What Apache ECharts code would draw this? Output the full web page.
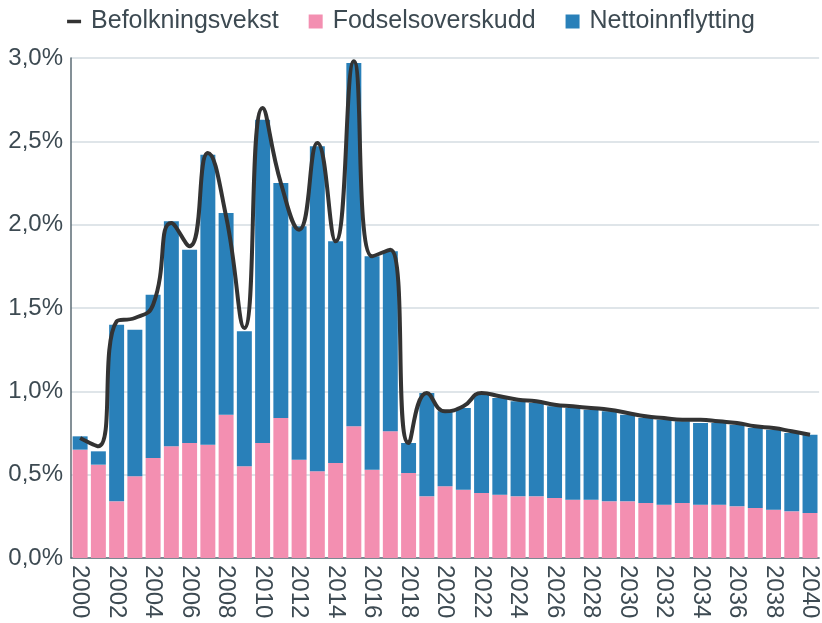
<!DOCTYPE html>
<html>
<head>
<meta charset="utf-8">
<script src="https://cdn.jsdelivr.net/npm/echarts@6/dist/echarts.min.js"></script>
<style>
  html, body { margin: 0; padding: 0; background: #fff; }
  #chart { width: 822px; height: 623px; }
</style>
</head>
<body>
<div id="chart"></div>
<script>
// kategorier (år)
var years = ["2000", "2001", "2002", "2003", "2004", "2005", "2006", "2007", "2008", "2009",
  "2010", "2011", "2012", "2013", "2014", "2015", "2016", "2017", "2018", "2019",
  "2020", "2021", "2022", "2023", "2024", "2025", "2026", "2027", "2028", "2029",
  "2030", "2031", "2032", "2033", "2034", "2035", "2036", "2037", "2038", "2039", "2040"];

// fødselsoverskudd, prosent
var fodselsoverskudd = [0.65, 0.56, 0.34, 0.49, 0.60, 0.67, 0.69, 0.68, 0.86, 0.55,
  0.69, 0.84, 0.59, 0.52, 0.57, 0.79, 0.53, 0.76, 0.51, 0.37,
  0.43, 0.41, 0.39, 0.38, 0.37, 0.37, 0.36, 0.35, 0.35, 0.34,
  0.34, 0.33, 0.32, 0.33, 0.32, 0.32, 0.31, 0.30, 0.29, 0.28, 0.27];

// nettoinnflytting, prosent
var nettoinnflytting = [0.08, 0.08, 1.06, 0.88, 0.98, 1.35, 1.16, 1.74, 1.21, 0.81,
  1.94, 1.41, 1.40, 1.95, 1.33, 2.18, 1.28, 1.08, 0.18, 0.62,
  0.45, 0.49, 0.60, 0.58, 0.57, 0.56, 0.55, 0.55, 0.54, 0.54,
  0.52, 0.51, 0.51, 0.49, 0.49, 0.49, 0.49, 0.48, 0.48, 0.47, 0.47];

// befolkningsvekst, prosent
var befolkningsvekst = [0.72, 0.67, 1.42, 1.44, 1.52, 2.01, 1.87, 2.43, 2.05, 1.38,
  2.70, 2.25, 1.97, 2.49, 1.90, 2.98, 1.81, 1.85, 0.69, 0.99,
  0.88, 0.91, 0.99, 0.97, 0.95, 0.94, 0.92, 0.91, 0.90, 0.89,
  0.87, 0.85, 0.84, 0.83, 0.83, 0.82, 0.81, 0.79, 0.78, 0.76, 0.74];

var textColor = "#3d4a52";
var axisColor = "#5b6b75";
var font = "'Liberation Sans', Arial, sans-serif";

var chart = echarts.init(document.getElementById("chart"));
chart.setOption({
  animation: false,
  textStyle: { fontFamily: font },
  legend: {
    top: 4,
    left: "center",
    itemWidth: 14,
    itemHeight: 14,
    itemGap: 30,
    textStyle: { fontSize: 25, color: textColor, fontFamily: font, padding: [0, 0, 0, 5] },
    data: [
      { name: "Befolkningsvekst", icon: "path://M0,0 L16,0 L16,4 L0,4 Z" },
      { name: "Fodselsoverskudd", icon: "rect" },
      { name: "Nettoinnflytting", icon: "rect" }
    ]
  },
  grid: {
    left: 71,
    right: 1,
    top: 58,
    bottom: 65
  },
  xAxis: {
    type: "category",
    data: years,
    axisLine: { lineStyle: { color: axisColor, width: 1.5 } },
    axisTick: { show: false },
    axisLabel: {
      rotate: -90,
      interval: 1,
      fontSize: 24,
      color: textColor,
      margin: 7
    }
  },
  yAxis: {
    type: "value",
    min: 0,
    max: 3,
    interval: 0.5,
    axisLine: { show: true, lineStyle: { color: axisColor, width: 1.5 } },
    axisTick: { show: false },
    splitLine: { lineStyle: { color: "#d5dde2", width: 1.5 } },
    axisLabel: {
      fontSize: 24,
      color: textColor,
      margin: 8,
      formatter: function (v) {
        return v.toFixed(1).replace(".", ",") + "%";
      }
    }
  },
  series: [
    {
      name: "Fodselsoverskudd",
      type: "bar",
      stack: "vekst",
      barCategoryGap: "18%",
      itemStyle: { color: "#f38fb1" },
      data: fodselsoverskudd
    },
    {
      name: "Nettoinnflytting",
      type: "bar",
      stack: "vekst",
      barCategoryGap: "18%",
      itemStyle: { color: "#2980b9" },
      data: nettoinnflytting
    },
    {
      name: "Befolkningsvekst",
      type: "line",
      smooth: true,
      symbol: "none",
      z: 5,
      lineStyle: { color: "#333333", width: 4 },
      itemStyle: { color: "#333333" },
      data: befolkningsvekst
    }
  ]
});
</script>
</body>
</html>
